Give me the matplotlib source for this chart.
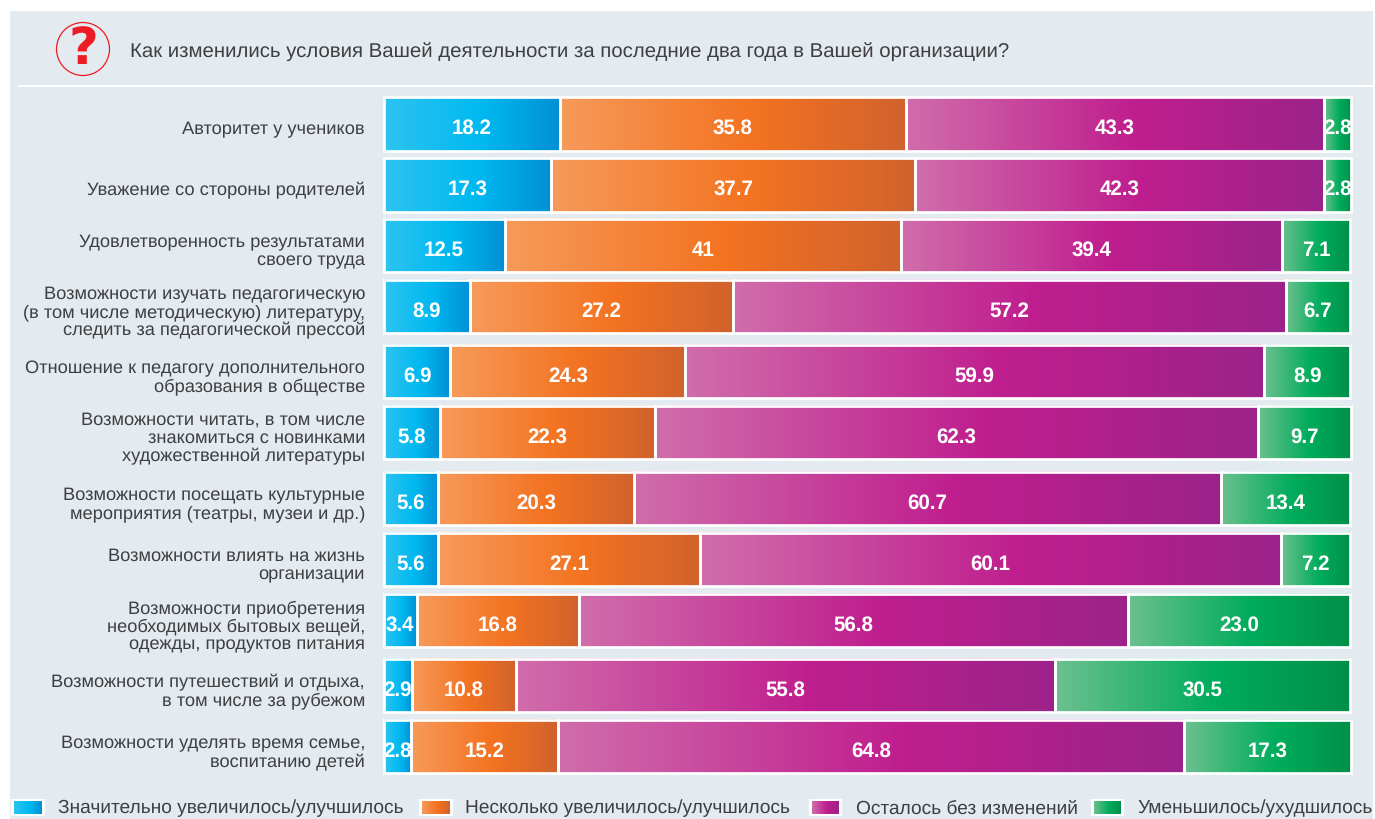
import matplotlib
matplotlib.use('Agg')
import matplotlib.pyplot as plt
import numpy as np
from matplotlib.colors import LinearSegmentedColormap
from matplotlib.patches import Ellipse, Rectangle

categories = [
    'Авторитет у учеников',
    'Уважение со стороны родителей',
    'Удовлетворенность результатами\nсвоего труда',
    'Возможности изучать педагогическую\n(в том числе методическую) литературу,\nследить за педагогической прессой',
    'Отношение к педагогу дополнительного\nобразования в обществе',
    'Возможности читать, в том числе\nзнакомиться с новинками\nхудожественной литературы',
    'Возможности посещать культурные\nмероприятия (театры, музеи и др.)',
    'Возможности влиять на жизнь\nорганизации',
    'Возможности приобретения\nнеобходимых бытовых вещей,\nодежды, продуктов питания',
    'Возможности путешествий и отдыха,\nв том числе за рубежом',
    'Возможности уделять время семье,\nвоспитанию детей',
]
much_better = [18.2, 17.3, 12.5, 8.9, 6.9, 5.8, 5.6, 5.6, 3.4, 2.9, 2.8]
bit_better = [35.8, 37.7, 41, 27.2, 24.3, 22.3, 20.3, 27.1, 16.8, 10.8, 15.2]
no_change = [43.3, 42.3, 39.4, 57.2, 59.9, 62.3, 60.7, 60.1, 56.8, 55.8, 64.8]
worse = [2.8, 2.8, 7.1, 6.7, 8.9, 9.7, 13.4, 7.2, 23.0, 30.5, 17.3]
series_names = [
    'Значительно увеличилось/улучшилось',
    'Несколько увеличилось/улучшилось',
    'Осталось без изменений',
    'Уменьшилось/ухудшилось',
]
title = 'Как изменились условия Вашей деятельности за последние два года в Вашей организации?'

# layout, in pixels of the picture
W, H = 1375, 819
row_y = [123.75, 184.7, 245.5, 306.5, 371.5, 432.5, 498.5, 559.5, 620.5, 685.5, 746.5]
bar_h = 53.7
legend_x = [(14, 42, 58), (422, 450, 465), (812, 839, 856), (1094, 1121, 1137)]

plt.rcParams['font.family'] = ['Liberation Sans', 'DejaVu Sans']
plt.rcParams['text.hinting'] = 'none'
text_col = '#3f3f41'

ramps = [
    ['#2ec3ef', '#00b9f1', '#0090d4'],
    ['#f79a5a', '#f37321', '#d1622d'],
    ['#d06dab', '#bf1e8e', '#9c2389'],
    ['#6cc08f', '#00ac5c', '#008f49'],
]
stops = [0.0, 0.55, 1.0]
cmaps = [LinearSegmentedColormap.from_list('r%d' % i, list(zip(stops, r))) for i, r in enumerate(ramps)]
grad = np.linspace(0, 1, 256).reshape(1, -1)

fig = plt.figure(figsize=(W / 100, H / 100), dpi=100)

# page layer, same coordinates as the picture
bg = fig.add_axes([0, 0, 1, 1])
bg.set_xlim(0, W)
bg.set_ylim(H, 0)
bg.axis('off')
bg.add_patch(Rectangle((10, 11), 1363, 808, color='#e3ebf0', lw=0))
bg.add_patch(Rectangle((18, 84.5), 1355, 2.2, color='white', lw=0))
bg.add_patch(Ellipse((83, 49), 53, 53, fc='none', ec='#ed1c24', lw=0.9))
bg.text(83, 49.5, '?', color='#ed1c24', fontsize=37, fontweight='bold', family='DejaVu Sans',
        ha='center', va='center')
bg.text(130, 52, title, color=text_col, fontsize=14.68, ha='left', va='center')

# bars
x0, x100 = 383.7, 1350.3
ax = fig.add_axes([x0 / W, 1 - 780 / H, (x100 - x0) / W, 690 / H])
ax.patch.set_alpha(0)
for s in ax.spines.values():
    s.set_visible(False)

left = np.zeros(len(categories))
for vals, cmap in zip([much_better, bit_better, no_change, worse], cmaps):
    widths = np.array(vals, dtype=float)
    for i, y in enumerate(row_y):
        ax.imshow(grad, cmap=cmap, aspect='auto', interpolation='bilinear', zorder=1, clip_on=False,
                  extent=[left[i], left[i] + widths[i], y + bar_h / 2, y - bar_h / 2])
    ax.barh(row_y, widths, left=left, height=bar_h, fill=False, edgecolor='white', linewidth=1.95,
            zorder=2, clip_on=False)
    for i, y in enumerate(row_y):
        ax.text(left[i] + widths[i] / 2, y + 5, str(vals[i]), color='white', fontsize=14.8,
                fontweight='bold', ha='center', va='center', zorder=3, clip_on=False)
    left += widths

ax.set_xlim(0, 100)
ax.set_ylim(780, 90)
ax.set_xticks([])
ax.set_yticks(np.array(row_y) + 3.5)
ax.set_yticklabels(categories, color=text_col, fontsize=13.15, multialignment='right', linespacing=1.1)
ax.tick_params(axis='y', length=0, pad=13.5)

# legend
for (a, b, tx), name, cmap in zip(legend_x, series_names, cmaps):
    bg.add_patch(Rectangle((a - 3, 798.5), b - a + 6, 17.5, color='white', lw=0))
    bg.imshow(grad, cmap=cmap, aspect='auto', interpolation='bilinear', extent=[a, b, 814, 801], zorder=2)
    bg.text(tx, 813.5, name, color=text_col, fontsize=13.75, ha='left', va='baseline')
bg.set_xlim(0, W)
bg.set_ylim(H, 0)

fig.savefig('out.png', dpi=100)
